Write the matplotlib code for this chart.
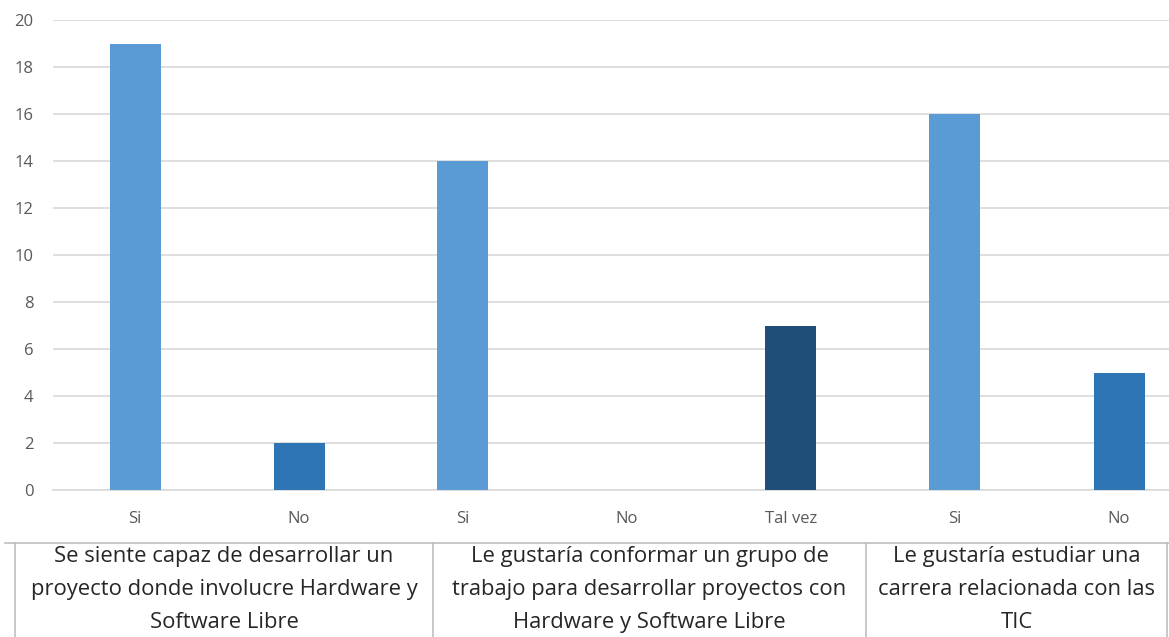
import numpy as np
import matplotlib
matplotlib.use("Agg")
from matplotlib import pyplot as plt
from matplotlib.lines import Line2D

plt.rcParams['font.family'] = ['Open Sans', 'DejaVu Sans']

# respuestas por categoria
answers = ['Si', 'No', 'Si', 'No', 'Tal vez', 'Si', 'No']
counts = [19, 2, 14, 0, 7, 16, 5]
bar_colors = ['#5B9BD5', '#2E75B6', '#5B9BD5', '#2E75B6', '#1F4E79', '#5B9BD5', '#2E75B6']
questions = [
    'Se siente capaz de desarrollar un\nproyecto donde involucre Hardware y\nSoftware Libre',
    'Le gustaría conformar un grupo de\ntrabajo para desarrollar proyectos con\nHardware y Software Libre',
    'Le gustaría estudiar una\ncarrera relacionada con las\nTIC',
]

W, H = 1169, 637
fig = plt.figure(figsize=(W / 100, H / 100), dpi=100)
fig.set_facecolor('white')

# eje principal (el ultimo bloque queda cortado a la derecha)
ax = fig.add_axes([53 / W, 1 - 490 / H, 1148 / W, 470 / H])
x = np.arange(len(answers))
ax.bar(x, counts, width=51 / 164, color=bar_colors, zorder=3)
ax.set_xlim(-0.5, len(answers) - 0.5)
ax.set_ylim(0, 20)
ax.set_yticks(np.arange(0, 21, 2))
ax.set_xticks(x)
ax.set_xticklabels(answers)
ax.yaxis.grid(True, color='#D9D9D9', linewidth=1.2, zorder=0)
for s in ax.spines.values():
    s.set_visible(False)
ax.spines['bottom'].set_visible(True)
ax.spines['bottom'].set_color('#D9D9D9')
ax.spines['bottom'].set_linewidth(1.2)
ax.tick_params(axis='both', length=0, colors='#595959', labelsize=12)
ax.tick_params(axis='y', pad=14)
ax.tick_params(axis='x', pad=15)

# tabla de preguntas debajo del eje
line_kw = dict(color='#BFBFBF', linewidth=1.2, transform=fig.transFigure)
fig.add_artist(Line2D([5 / W, 1], [1 - 543 / H, 1 - 543 / H], **line_kw))
dividers = [15, 433, 866, 1167]
for d in dividers:
    fig.add_artist(Line2D([d / W, d / W], [0, 1 - 543 / H], **line_kw))

for i, q in enumerate(questions):
    cx = (dividers[i] + dividers[i + 1]) / 2 / W
    fig.text(cx, 1 - 546 / H, q, ha='center', va='top', fontsize=15.8,
             color='#262626', linespacing=1.76)

fig.savefig('out.png', dpi=100)
